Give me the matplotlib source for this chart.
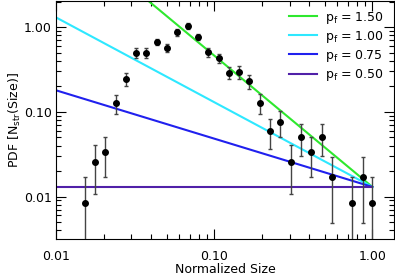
import numpy as np
import matplotlib
matplotlib.use("Agg")
import matplotlib.pyplot as plt
from matplotlib.ticker import FixedLocator, FixedFormatter, NullFormatter

# Dados
size = [0.0152, 0.0176, 0.0205, 0.0238, 0.0277, 0.0322, 0.0372, 0.0433,
        0.0503, 0.0584, 0.068, 0.079, 0.0918, 0.1067, 0.124, 0.1435,
        0.1667, 0.1939, 0.2253, 0.2618, 0.3046, 0.3538, 0.411, 0.478,
        0.5553, 0.746, 0.868, 1.0]
pdf = [0.0085, 0.0254, 0.0338, 0.127, 0.2457, 0.4935, 0.4935, 0.665,
       0.570, 0.866, 1.036, 0.768, 0.503, 0.4275, 0.289, 0.2946,
       0.229, 0.128, 0.0594, 0.0764, 0.0256, 0.0508, 0.0338, 0.0508,
       0.0170, 0.0085, 0.0170, 0.0085]
pdf_err = [0.0085, 0.0148, 0.017, 0.032, 0.044, 0.067, 0.067, 0.058,
           0.060, 0.075, 0.085, 0.070, 0.065, 0.053, 0.047, 0.050,
           0.044, 0.034, 0.0225, 0.026, 0.0148, 0.0208, 0.017, 0.0208,
           0.0121, 0.0085, 0.0121, 0.0085]

# Leis de potencia (inclinacao lida, todas passam por x=1)
p_f = [1.50, 1.00, 0.75, 0.50]
slopes = [1.55, 1.0, 0.57, 0.0]
anchor = 0.013
colors = ['#2ee82e', '#2ee8ff', '#2020ee', '#5020a8']

fig = plt.figure(figsize=(3.95, 2.76), dpi=100)
ax = fig.add_axes([56/395, 1 - 239/276, 338/395, 238/276])

xl = np.array([0.01, 1.0])
for p, s, c in zip(p_f, slopes, colors):
    ax.plot(xl, anchor * xl ** (-s), color=c, lw=1.5,
            label=r'p$_{\rm f}$ = %.2f' % p, zorder=2)

size = np.array(size)
pdf = np.array(pdf)
pdf_err = np.array(pdf_err)
lower = np.minimum(pdf_err, pdf - 1e-5)
ax.errorbar(size, pdf, yerr=[lower, pdf_err], fmt='o', color='black',
            ecolor='#444444', elinewidth=1.0, capsize=1.5, capthick=1.0,
            markersize=4, zorder=3)

ax.set_xscale('log')
ax.set_yscale('log')
ax.set_xlim(0.01, 1.37)
ax.set_ylim(0.00316, 2.03)

for axis in [ax.xaxis, ax.yaxis]:
    axis.set_major_locator(FixedLocator([0.01, 0.1, 1.0]))
    axis.set_major_formatter(FixedFormatter(['0.01', '0.10', '1.00']))
    axis.set_minor_formatter(NullFormatter())
ax.tick_params(which='both', direction='in', top=True, right=True,
               labelsize=9, width=0.8)
ax.tick_params(which='major', length=7)
ax.tick_params(axis='x', which='major', pad=8)
ax.tick_params(axis='y', which='major', pad=3)
ax.tick_params(which='minor', length=3.5)
for sp in ax.spines.values():
    sp.set_linewidth(0.8)

ax.set_xlabel('Normalized Size', fontsize=9)
ax.xaxis.set_label_coords(0.5, -0.1)
ax.set_ylabel(r'PDF $\left[{\rm N}_{\rm str}({\rm Size})\right]$', fontsize=9)
ax.yaxis.set_label_coords(-0.098, 0.5)

ax.legend(loc='upper left', bbox_to_anchor=(286/395, 1 - 7/276),
          bbox_transform=fig.transFigure, frameon=False, fontsize=9,
          handlelength=2.3, handletextpad=0.6, labelspacing=0.25,
          borderaxespad=0, borderpad=0.2)

plt.savefig('out.png', dpi=100)
